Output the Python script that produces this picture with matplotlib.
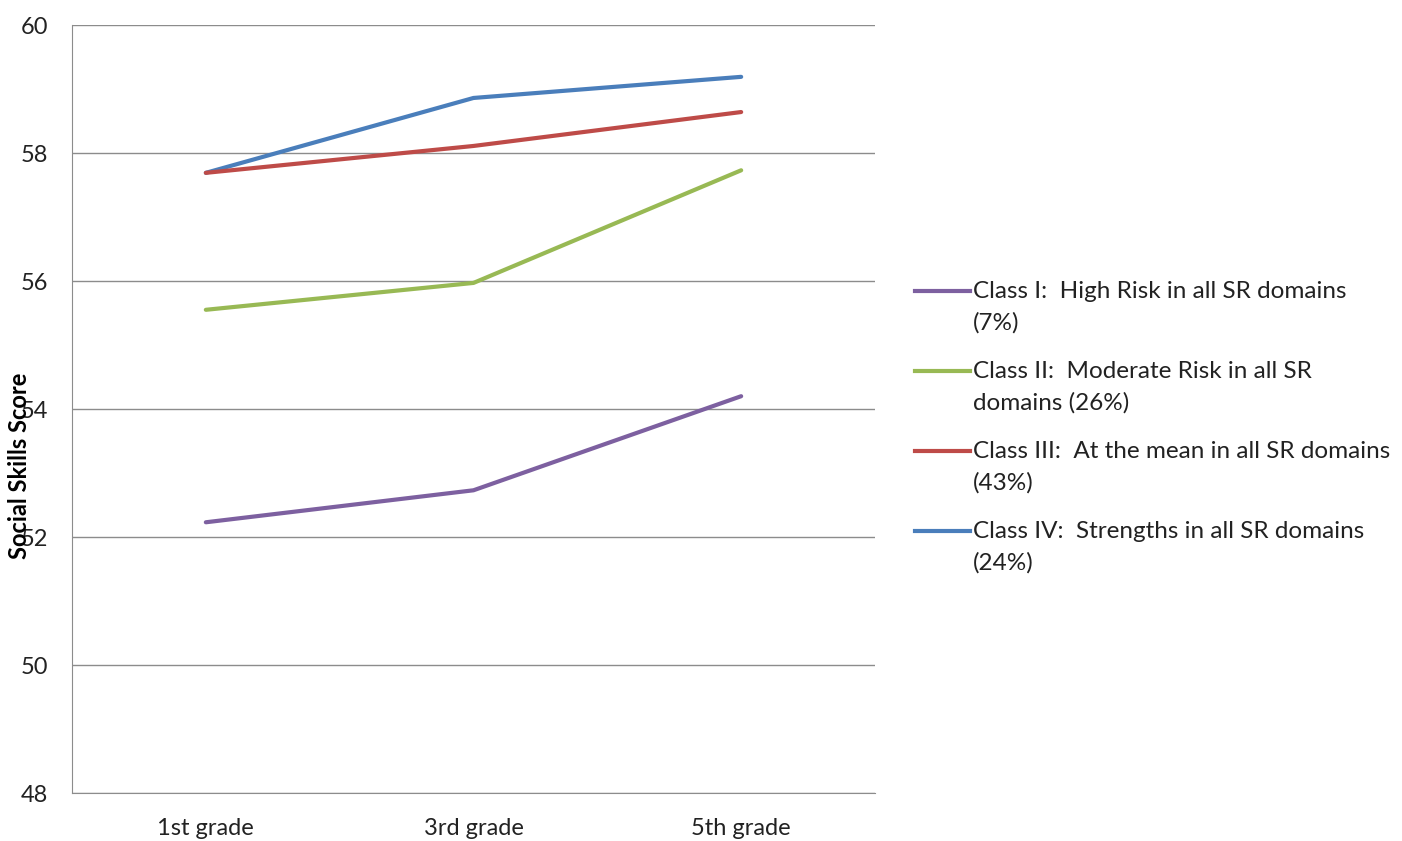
import matplotlib.pyplot as plt
from matplotlib.lines import Line2D

plt.rcParams['font.family'] = ['Lato', 'DejaVu Sans']

# -------- DATA --------
grades = ["1st grade", "3rd grade", "5th grade"]
class_1 = [52.23, 52.73, 54.20]
class_2 = [55.55, 55.97, 57.73]
class_3 = [57.69, 58.11, 58.64]
class_4 = [57.69, 58.86, 59.19]

labels = [
    "Class I:  High Risk in all SR domains\n(7%)",
    "Class II:  Moderate Risk in all SR\ndomains (26%)",
    "Class III:  At the mean in all SR domains\n(43%)",
    "Class IV:  Strengths in all SR domains\n(24%)",
]
colors = ["#7D60A0", "#98B954", "#BE4B48", "#4A7EBB"]
series = [class_1, class_2, class_3, class_4]

fig = plt.figure(figsize=(14.02, 8.41), dpi=100)
W, H = 1402, 841
ax = fig.add_axes([72 / W, 1 - 793 / H, (875 - 72) / W, (793 - 25) / H])

x = range(len(grades))
# draw in reverse so blue ends on top, like the original
for vals, c in reversed(list(zip(series, colors))):
    ax.plot(x, vals, color=c, linewidth=3, solid_capstyle="round")

ax.set_xlim(-0.5, 2.5)
ax.set_ylim(48, 60)
ax.set_yticks(range(48, 61, 2))
ax.set_xticks(list(x))
ax.set_xticklabels(grades)
ax.grid(axis="y", color="#8c8c8c", linewidth=1)
ax.set_axisbelow(True)
ax.tick_params(length=0, labelsize=17, colors="#222222")
ax.tick_params(axis="y", pad=17)
ax.tick_params(axis="x", pad=18)
for s in ["top", "right"]:
    ax.spines[s].set_visible(False)
for s in ["left", "bottom"]:
    ax.spines[s].set_color("#8c8c8c")

# the axis title sits over the 52/54 labels in the original
fig.text(20 / W, 1 - 466 / H, "Social Skills Score", rotation=90,
         ha="center", va="center", fontsize=17, fontweight="bold")

# -------- LEGEND (manual, handle aligned to first text line) --------
y0 = 291
for i, (lab, c) in enumerate(zip(labels, colors)):
    yy = 1 - (y0 + i * 80) / H
    fig.add_artist(Line2D([915 / W, 970 / W], [yy, yy], color=c, linewidth=3,
                          transform=fig.transFigure))
    fig.text(973 / W, yy + 10 / H, lab, ha="left", va="top", fontsize=17.5,
             color="#222222", linespacing=1.55)

fig.savefig("out.png", dpi=100)
